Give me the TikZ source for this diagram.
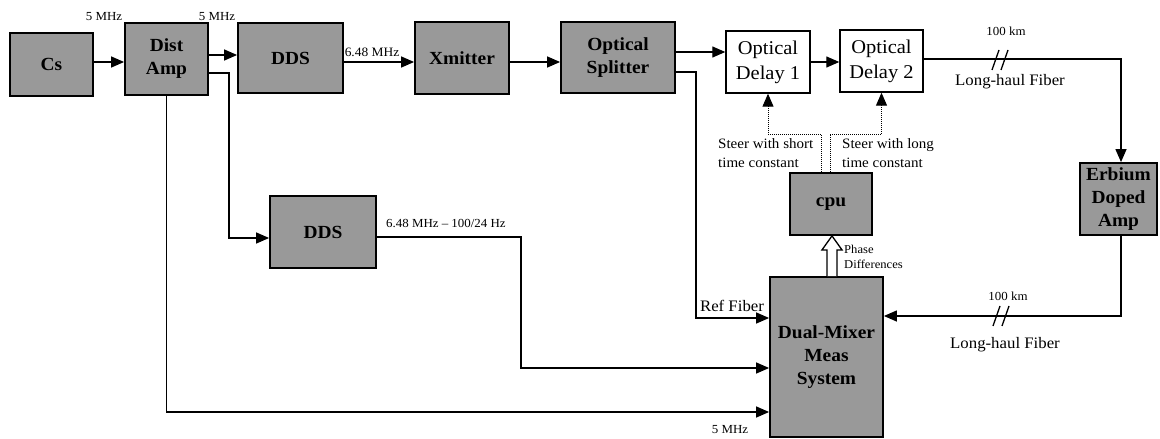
\documentclass[tikz,border=0pt]{standalone}
\usepackage{fontspec}
\setmainfont{Liberation Serif}[FakeStretch=1.05]
\usetikzlibrary{arrows.meta,calc}
\begin{document}
\begin{tikzpicture}[x=1pt,y=-1pt,
  gbox/.style={draw=black, line width=1.8pt, fill=black!40, inner sep=0pt, align=center,
    font=\fontsize{18.5}{23}\selectfont\bfseries},
  wbox/.style={draw=black, line width=1.4pt, fill=white, inner sep=0pt, align=center,
    font=\fontsize{19.5}{25}\selectfont},
  arr/.style={line width=1.3pt, -{Triangle[length=13pt,width=11pt]}},
  steer/.style={line width=1pt, densely dotted, -{Triangle[length=13pt,width=11pt]}},
  hollow/.style={line width=1.3pt, fill=white, line join=miter},
  lbl/.style={inner sep=0pt, font=\fontsize{12.3}{14}\selectfont},
  mlbl/.style={inner sep=0pt, align=left, font=\fontsize{14.3}{19}\selectfont},
  flbl/.style={inner sep=0pt, font=\fontsize{16}{18}\selectfont},
  brk/.style={line width=1.3pt}
]
\useasboundingbox (0,0) rectangle (1160,439);

% blocks
\node[gbox, minimum width=83pt, minimum height=63pt] (cs) at (51.5,64.5) {Cs};
\node[gbox, minimum width=83pt, minimum height=72pt] (dist) at (166.5,59) {Dist\\Amp};
\node[gbox, minimum width=105pt, minimum height=70pt] (dds1) at (290.5,58) {DDS};
\node[gbox, minimum width=94pt, minimum height=72pt] (xmit) at (462,58) {Xmitter};
\node[gbox, minimum width=114pt, minimum height=71pt] (split) at (618,57.5) {Optical\\Splitter};
\node[wbox, minimum width=84pt, minimum height=62pt] (del1) at (768,62) {Optical\\Delay 1};
\node[wbox, minimum width=83pt, minimum height=62pt] (del2) at (881.5,61) {Optical\\Delay 2};
\node[gbox, minimum width=77pt, minimum height=72pt] (erb) at (1118.5,199) {Erbium\\Doped\\Amp};
\node[gbox, minimum width=82pt, minimum height=62pt] (cpu) at (831,204) {cpu};
\node[gbox, minimum width=113pt, minimum height=160pt] (dm) at (826.5,357) {Dual-Mixer\\Meas\\System};
\node[gbox, minimum width=106pt, minimum height=72pt] (dds2) at (323,232) {DDS};

% connectors
\draw[arr] ([yshift=2.5pt]cs.east) coordinate (c1) -- (c1 -| dist.west);
\draw[arr] ([yshift=4pt]dist.east) coordinate (c2) -- (c2 -| dds1.west);
\draw[arr] ([yshift=-4pt]dds1.east) coordinate (c3) -- (c3 -| xmit.west);
\draw[arr] ([yshift=-4pt]xmit.east) coordinate (c4) -- (c4 -| split.west);
\draw[arr] ([yshift=5.5pt]split.east) coordinate (c5) -- (c5 -| del1.west);
\draw[arr] (del1.east) -- (del1.east -| del2.west);
\draw[arr] ([yshift=2pt]del2.east) coordinate (c6) -- ([xshift=2.5pt]c6 -| erb.north) -- ([xshift=2.5pt]erb.north);
\draw[arr] ([xshift=2.5pt]erb.south) |- ([yshift=41pt]dm.east);
\draw[arr] ([yshift=-14.5pt]split.east) -- ++(20,0) |- ([yshift=39pt]dm.west);
\draw[arr] ([yshift=-14pt]dist.east) -- ++(20,0) |- ([yshift=-6pt]dds2.west);
\draw[arr] (dist.south) |- ([yshift=-55pt]dm.west);
\draw[arr] ([yshift=-5pt]dds2.east) -- ++(144,0) |- ([yshift=-11pt]dm.west);
\draw[steer] ([xshift=-10pt]cpu.north) -- ++(0,-38) -| (del1.south);
\draw[steer] ([xshift=-1pt]cpu.north) -- ++(0,-38) -| (del2.south);

% hollow arrow (phase differences)
\coordinate (ha) at ([xshift=1pt]cpu.south);
\coordinate (hb) at (ha |- dm.north);
\draw[hollow] ($(hb)+(-5,0)$) -- ($(ha)+(-5,14)$) -- ($(ha)+(-10,14)$) -- (ha)
  -- ($(ha)+(10,14)$) -- ($(ha)+(5,14)$) -- ($(hb)+(5,0)$);

% break marks on long-haul fibres
\coordinate (b1) at (1001,60);
\draw[brk] ($(b1)+(-9,10)$) -- ($(b1)+(-2,-10)$);
\draw[brk] ($(b1)+(0,10)$) -- ($(b1)+(7,-10)$);
\coordinate (b2) at (1002,316);
\draw[brk] ($(b2)+(-9,10)$) -- ($(b2)+(-2,-10)$);
\draw[brk] ($(b2)+(0,10)$) -- ($(b2)+(7,-10)$);

% labels
\node[lbl] (l1) at (104,17) {5 MHz};
\node[lbl] (l2) at (217,17) {5 MHz};
\node[lbl, font=\fontsize{12.8}{14}\selectfont] (l3) at (372,52) {6.48 MHz};
\node[lbl, anchor=west] (l4) at (386,223) {6.48 MHz -- 100/24 Hz};
\node[lbl] (l5) at (1006,31) {100 km};
\node[flbl] (l6) at (1010,82) {Long-haul Fiber};
\node[lbl] (l7) at (1008,296) {100 km};
\node[flbl] (l8) at (1005,345) {Long-haul Fiber};
\node[mlbl, anchor=north west] (l9) at (718,138) {Steer with short\\time constant};
\node[mlbl, anchor=north west] (l10) at (842,138) {Steer with long\\time constant};
\node[lbl, align=left, anchor=north west, font=\fontsize{12}{15}\selectfont] (l11) at (844,245) {Phase\\Differences};
\node[flbl] (l12) at (732,306) {Ref Fiber};
\node[lbl] (l13) at (730,430) {5 MHz};
\end{tikzpicture}
\end{document}
